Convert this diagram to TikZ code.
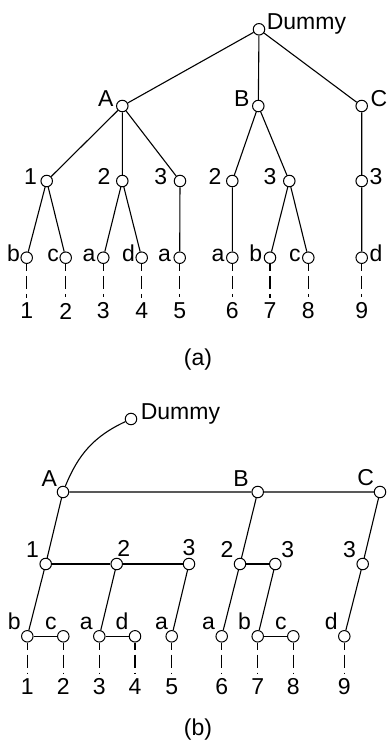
\documentclass[tikz,border=0pt]{standalone}
\usepackage{fontspec}
\setmainfont{Liberation Sans}
\tikzset{
  vtx/.style={circle, draw, fill=white, inner sep=0pt, minimum size=11.5pt, line width=1pt},
  num/.style={inner sep=1pt, font=\fontsize{23}{27}\selectfont},
  every label/.style={inner sep=1pt, font=\fontsize{23}{27}\selectfont},
  leafline/.style={dash pattern=on 7pt off 5pt on 13pt off 5pt, shorten >=4pt},
  lowleft/.style={anchor=base east, yshift=-3.5pt},
}
\begin{document}
\begin{tikzpicture}[x=1pt, y=-1pt, line width=1.1pt]
  \useasboundingbox (0,0) rectangle (386,742);
  % (a): the plain tree
  \begin{scope}
    \node[vtx, label={[anchor=base west]right:Dummy}] (aD) at (259,29.3) {};
    \node[vtx, label={[anchor=base east, label distance=1pt]left:A}] (aA) at (122.3,106) {};
    \node[vtx, label={[anchor=base east, label distance=1pt]left:B}] (aB) at (258.3,106) {};
    \node[vtx, label={[anchor=base west, label distance=1pt]right:C}] (aC) at (361.7,106) {};
    \node[vtx, label={[lowleft, label distance=2pt]left:1}] (a1) at (46.7,181) {};
    \node[vtx, label={[lowleft, label distance=4pt]left:2}] (a2) at (122.3,181) {};
    \node[vtx, label={[lowleft, label distance=5pt]left:3}] (a3) at (180,181) {};
    \node[vtx, label={[lowleft, label distance=3pt]left:2}] (a4) at (232.3,181) {};
    \node[vtx, label={[lowleft, label distance=5pt]left:3}] (a5) at (289.3,181) {};
    \node[vtx, label={[anchor=base west, yshift=-3.5pt, label distance=0pt]right:3}] (a6) at (361.7,181) {};
    \node[vtx, label={[lowleft, label distance=-1pt]left:b}] (al1) at (26.7,257.7) {};
    \node[vtx, label={[lowleft, label distance=-1pt]left:c}] (al2) at (65.7,257.7) {};
    \node[vtx, label={[lowleft, label distance=0pt]left:a}] (al3) at (103.3,257.7) {};
    \node[vtx, label={[lowleft, label distance=-1pt]left:d}] (al4) at (141.7,257.7) {};
    \node[vtx, label={[lowleft, label distance=1pt]left:a}] (al5) at (179.7,257.7) {};
    \node[vtx, label={[lowleft, label distance=0pt]left:a}] (al6) at (232.3,257.7) {};
    \node[vtx, label={[lowleft, label distance=0pt]left:b}] (al7) at (270,257.7) {};
    \node[vtx, label={[lowleft, label distance=0pt]left:c}] (al8) at (308.3,257.7) {};
    \node[vtx, label={[anchor=base west, yshift=-3.5pt, label distance=0pt]right:d}] (al9) at (361.7,257.7) {};
    \draw (aD) -- (aA) (aD) -- (aB) (aD) -- (aC);
    \draw (aA) -- (a1) (aA) -- (a2) (aA) -- (a3) (aB) -- (a4) (aB) -- (a5) (aC) -- (a6);
    \draw (a1) -- (al1) (a1) -- (al2) (a2) -- (al3) (a2) -- (al4) (a3) -- (al5);
    \draw (a4) -- (al6) (a5) -- (al7) (a5) -- (al8) (a6) -- (al9);
    \foreach \i/\x in {1/26.7, 2/65.7, 3/103.3, 4/141.7, 5/179.7, 6/232.3, 7/270, 8/308.3, 9/361.7} {
      \node[num] (an\i) at (\x,311) {\i};
      \draw[leafline] (al\i) -- (an\i);
    }
    \node[num] (capa) at (198,359.5) {(a)};
  \end{scope}
  % (b): the same tree as sibling chains
  \begin{scope}
    \node[vtx, label={[anchor=base west, label distance=2pt]right:Dummy}] (bD) at (131,419) {};
    \node[vtx, label={[label distance=0pt]above left:A}] (bA) at (63,492) {};
    \node[vtx, label={[label distance=0pt, xshift=-3pt]above left:B}] (bB) at (257.7,492) {};
    \node[vtx, label={[label distance=0pt]above left:C}] (bC) at (380,492) {};
    \node[vtx, label={[label distance=1pt]above left:1}] (b1) at (45.7,564) {};
    \node[vtx, label={[xshift=7pt]above:2}] (b2) at (116.7,564) {};
    \node[vtx, label={above:3}] (b3) at (189,564) {};
    \node[vtx, label={[label distance=1pt]above left:2}] (b4) at (240,564) {};
    \node[vtx, label={[label distance=0pt]above right:3}] (b5) at (275.3,564) {};
    \node[vtx, label={[label distance=1pt]above left:3}] (b6) at (362.7,564) {};
    \node[vtx, label={[label distance=1pt]above left:b}] (bl1) at (27.3,636.3) {};
    \node[vtx, label={[label distance=1pt]above left:c}] (bl2) at (63.3,636.3) {};
    \node[vtx, label={[label distance=1pt]above left:a}] (bl3) at (99.3,636.3) {};
    \node[vtx, label={[label distance=1pt]above left:d}] (bl4) at (135,636.3) {};
    \node[vtx, label={[label distance=1pt, xshift=3pt]above left:a}] (bl5) at (171.7,636.3) {};
    \node[vtx, label={[label distance=1pt]above left:a}] (bl6) at (221.7,636.3) {};
    \node[vtx, label={[label distance=1pt]above left:b}] (bl7) at (257.7,636.3) {};
    \node[vtx, label={[label distance=1pt]above left:c}] (bl8) at (293.3,636.3) {};
    \node[vtx, label={[label distance=1pt]above left:d}] (bl9) at (344.3,636.3) {};
    \draw (bA) to[out=68, in=205] (bD);
    \draw (bA) -- (bB) -- (bC) (bA) -- (b1) (bB) -- (b4) (bC) -- (b6);
    \draw (b1) -- (b2) -- (b3) (b4) -- (b5);
    \draw (b1) -- (bl1) (b2) -- (bl3) (b3) -- (bl5) (b4) -- (bl6) (b5) -- (bl7) (b6) -- (bl9);
    \draw (bl1) -- (bl2) (bl3) -- (bl4) (bl7) -- (bl8);
    \foreach \i/\x in {1/27.3, 2/63.3, 3/99.3, 4/135, 5/171.7, 6/221.7, 7/257.7, 8/293.3, 9/344.3} {
      \node[num] (bn\i) at (\x,686.7) {\i};
      \draw[leafline] (bl\i) -- (bn\i);
    }
    \node[num] (capb) at (198,730) {(b)};
  \end{scope}
\end{tikzpicture}
\end{document}
